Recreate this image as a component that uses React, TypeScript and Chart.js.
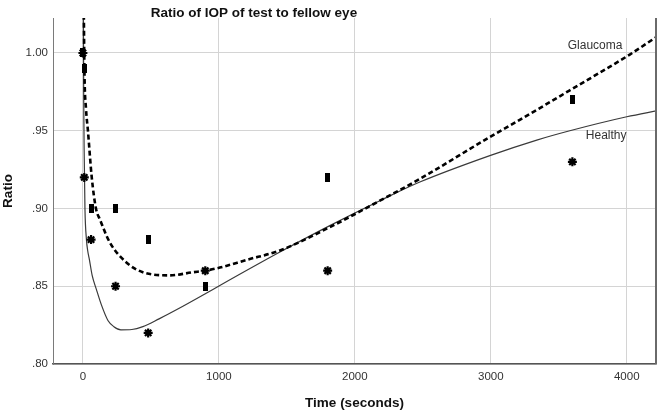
import React, { useEffect, useRef } from 'react';
import { Chart, registerables } from 'chart.js';

Chart.register(...registerables);

// ---- text ----
const TITLE = 'Ratio of IOP of test to fellow eye';
const X_TITLE = 'Time (seconds)';
const Y_TITLE = 'Ratio';

// ---- axes ----
const X_TICKS = [0, 1000, 2000, 3000, 4000];
const Y_TICKS = [0.8, 0.85, 0.9, 0.95, 1.0];
const X_MIN = -220;
const X_MAX = 4215;
const Y_MIN = 0.8;
const Y_MAX = 1.0225;

// ---- observed data ----
const TIMES = [0, 10, 60, 240, 480, 900, 1800, 3600];
const GLAUCOMA = [1.0, 0.99, 0.9, 0.9, 0.88, 0.85, 0.92, 0.97];
const HEALTHY = [1.0, 0.92, 0.88, 0.85, 0.82, 0.86, 0.86, 0.93];

// ---- fitted curves ----
const GLAUCOMA_FIT_T = [5, 12, 22, 37, 65, 96, 125, 199, 324, 441, 640, 809, 900, 1007, 1206, 1449, 1816, 2184, 2478, 2993, 3213, 3581, 4022, 4230];
const GLAUCOMA_FIT_V = [1.04, 0.985, 0.965, 0.95, 0.92, 0.9, 0.893, 0.878, 0.865, 0.859, 0.857, 0.859, 0.86, 0.862, 0.867, 0.873, 0.888, 0.905, 0.919, 0.946, 0.957, 0.976, 0.999, 1.011];
const HEALTHY_FIT_T = [3, 6, 9, 15, 26, 35, 48, 68, 99, 136, 184, 228, 279, 360, 441, 560, 691, 897, 1007, 1449, 1816, 2184, 2478, 2993, 3338, 3581, 4000, 4230];
const HEALTHY_FIT_V = [1.04, 0.97, 0.938, 0.9, 0.88, 0.873, 0.867, 0.857, 0.848, 0.838, 0.828, 0.824, 0.822, 0.8222, 0.824, 0.829, 0.835, 0.845, 0.8505, 0.872, 0.889, 0.905, 0.917, 0.934, 0.944, 0.95, 0.959, 0.963];

// ---- curve labels (data units) ----
const CURVE_LABELS = [
  { text: 'Glaucoma', t: 3566, v: 1.005 },
  { text: 'Healthy', t: 3699, v: 0.947 },
];

const FONT = '"Liberation Sans", Arial, sans-serif';

export default function App() {
  const ref = useRef<HTMLCanvasElement | null>(null);

  useEffect(() => {
    const canvas = ref.current;
    if (!canvas) return;

    const rectMarker = document.createElement('canvas');
    rectMarker.width = 5;
    rectMarker.height = 9;
    const rctx = rectMarker.getContext('2d');
    if (rctx) {
      rctx.fillStyle = '#000';
      rctx.fillRect(0, 0, 5, 9);
    }

    const overlay = {
      id: 'overlay',
      afterDraw(chart: any) {
        const { ctx, chartArea, scales } = chart;
        ctx.save();
        // right frame
        ctx.strokeStyle = '#6a6a6a';
        ctx.lineWidth = 2;
        ctx.beginPath();
        ctx.moveTo(chartArea.right, chartArea.top);
        ctx.lineTo(chartArea.right, chartArea.bottom);
        ctx.stroke();
        // curve labels
        ctx.fillStyle = '#333';
        ctx.font = `12px ${FONT}`;
        ctx.textAlign = 'left';
        ctx.textBaseline = 'middle';
        CURVE_LABELS.forEach((l) => {
          ctx.fillText(l.text, scales.x.getPixelForValue(l.t), scales.y.getPixelForValue(l.v));
        });
        // title
        ctx.fillStyle = '#111';
        ctx.font = `bold 13.5px ${FONT}`;
        ctx.textAlign = 'center';
        ctx.fillText(TITLE, 254, 13);
        ctx.restore();
      },
    };

    const chart = new Chart(canvas, {
      type: 'scatter',
      data: {
        datasets: [
          {
            label: 'Healthy fit',
            data: HEALTHY_FIT_T.map((t, i) => ({ x: t, y: HEALTHY_FIT_V[i] })),
            showLine: true,
            pointRadius: 0,
            borderColor: '#3a3a3a',
            borderWidth: 1.2,
            cubicInterpolationMode: 'monotone',
            order: 4,
          },
          {
            label: 'Glaucoma fit',
            data: GLAUCOMA_FIT_T.map((t, i) => ({ x: t, y: GLAUCOMA_FIT_V[i] })),
            showLine: true,
            pointRadius: 0,
            borderColor: '#000',
            borderWidth: 2.6,
            borderDash: [5, 3],
            cubicInterpolationMode: 'monotone',
            order: 3,
          },
          {
            label: 'Healthy',
            data: TIMES.map((t, i) => ({ x: t, y: HEALTHY[i] })),
            pointStyle: 'star',
            pointRadius: 4.5,
            pointBorderWidth: 2.2,
            pointBorderColor: '#000',
            pointBackgroundColor: '#000',
            showLine: false,
            order: 2,
          },
          {
            label: 'Glaucoma',
            data: TIMES.map((t, i) => ({ x: t, y: GLAUCOMA[i] })),
            pointStyle: rectMarker as any,
            pointRadius: 5,
            showLine: false,
            order: 1,
          },
        ],
      },
      options: {
        animation: false,
        responsive: false,
        devicePixelRatio: 1,
        layout: { padding: { left: 0, right: 8, top: 18, bottom: 0 } },
        plugins: {
          legend: { display: false },
          tooltip: { enabled: false },
          title: { display: false },
        },
        scales: {
          x: {
            type: 'linear',
            min: X_MIN,
            max: X_MAX,
            afterBuildTicks: (s: any) => {
              s.ticks = X_TICKS.map((v) => ({ value: v }));
            },
            afterFit: (s: any) => {
              s.height = 52;
            },
            grid: { color: '#d4d4d4', lineWidth: 1, drawTicks: false },
            border: { display: true, color: '#555', width: 1.5 },
            ticks: {
              padding: 6,
              color: '#333',
              font: { family: FONT, size: 11.5 },
              callback: (v: any) => String(v),
            },
            title: {
              display: true,
              text: X_TITLE,
              color: '#111',
              font: { family: FONT, size: 13.5, weight: 'bold' },
              padding: { top: 0, bottom: 5 },
            },
          },
          y: {
            type: 'linear',
            min: Y_MIN,
            max: Y_MAX,
            afterBuildTicks: (s: any) => {
              s.ticks = Y_TICKS.map((v) => ({ value: v }));
            },
            afterFit: (s: any) => {
              s.width = 53;
            },
            grid: { color: '#d4d4d4', lineWidth: 1, drawTicks: false },
            border: { display: true, color: '#7a7a7a', width: 1 },
            ticks: {
              padding: 5,
              color: '#333',
              font: { family: FONT, size: 11.5 },
              callback: (v: any) => Number(v).toFixed(2).replace(/^0/, ''),
            },
            title: {
              display: true,
              text: Y_TITLE,
              color: '#111',
              font: { family: FONT, size: 13.5, weight: 'bold' },
              padding: { top: 0, bottom: 0 },
            },
          },
        },
      },
      plugins: [overlay],
    } as any);

    return () => chart.destroy();
  }, []);

  return (
    <div style={{ position: 'fixed', left: 0, top: 0, width: 664, height: 416, background: '#fff' }}>
      <canvas ref={ref} width={664} height={416} style={{ width: 664, height: 416, display: 'block' }} />
    </div>
  );
}
